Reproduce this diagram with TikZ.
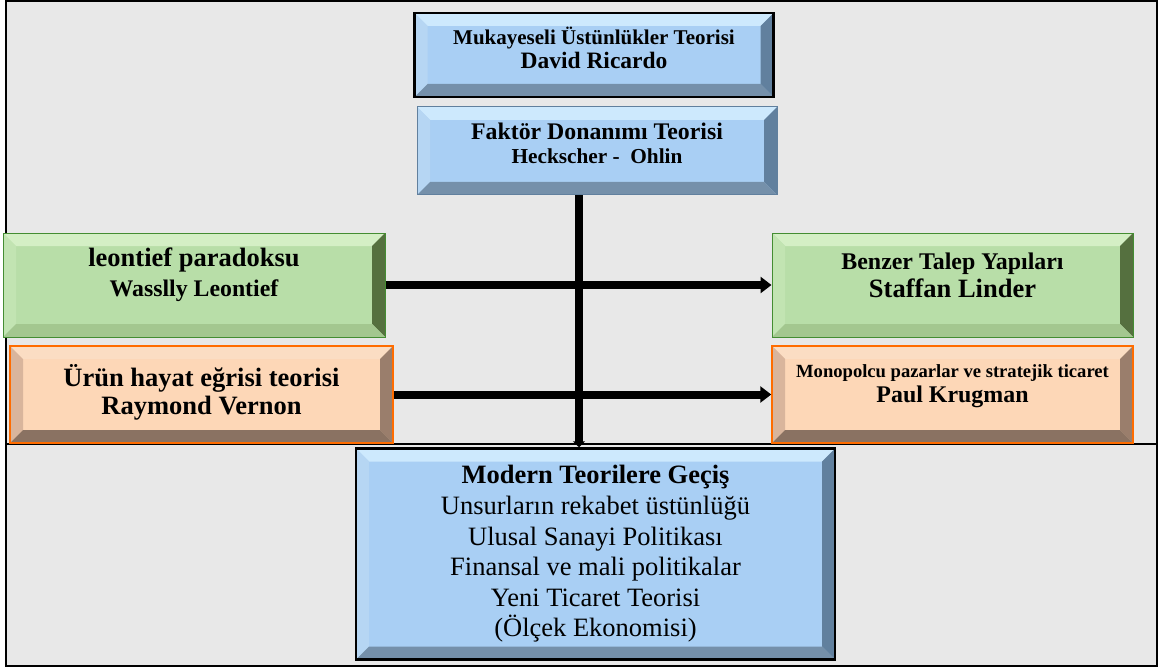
\documentclass[tikz,border=0pt]{standalone}
\usepackage{fontspec}
\setmainfont{Liberation Serif}
\usepackage{tikz}
\usetikzlibrary{arrows.meta, positioning}

\definecolor{bgray}{HTML}{E8E8E8}
\definecolor{bluemain}{HTML}{A9CFF4}
\definecolor{bluetop}{HTML}{CDE9FD}
\definecolor{blueleft}{HTML}{B6D6F3}
\definecolor{blueright}{HTML}{61809E}
\definecolor{bluebot}{HTML}{7590AA}
\definecolor{greenmain}{HTML}{B8DEA8}
\definecolor{greentop}{HTML}{D4EFC5}
\definecolor{greenleft}{HTML}{C2E4B2}
\definecolor{greenright}{HTML}{55703F}
\definecolor{greenbot}{HTML}{A3C78F}
\definecolor{orangemain}{HTML}{FDD7B7}
\definecolor{orangetop}{HTML}{FBDDC3}
\definecolor{orangeleft}{HTML}{D9B59C}
\definecolor{orangeright}{HTML}{9A7E6C}
\definecolor{orangebot}{HTML}{8A7262}
\newcommand\bevw{13pt}
\newcommand\fs[2]{\fontsize{#1}{#2}\selectfont}

\begin{document}
\begin{tikzpicture}[x=1pt,y=-1pt]
\tikzset{bevel/.style n args={5}{fill=#1, path picture={
   \fill[#2] (path picture bounding box.north west) -- (path picture bounding box.north east)
      -- ([shift={(-\bevw,-\bevw)}]path picture bounding box.north east)
      -- ([shift={(\bevw,-\bevw)}]path picture bounding box.north west) -- cycle;
   \fill[#3] (path picture bounding box.north west) -- (path picture bounding box.south west)
      -- ([shift={(\bevw,\bevw)}]path picture bounding box.south west)
      -- ([shift={(\bevw,-\bevw)}]path picture bounding box.north west) -- cycle;
   \fill[#4] (path picture bounding box.north east) -- (path picture bounding box.south east)
      -- ([shift={(-\bevw,\bevw)}]path picture bounding box.south east)
      -- ([shift={(-\bevw,-\bevw)}]path picture bounding box.north east) -- cycle;
   \fill[#5] (path picture bounding box.south west) -- (path picture bounding box.south east)
      -- ([shift={(-\bevw,\bevw)}]path picture bounding box.south east)
      -- ([shift={(\bevw,\bevw)}]path picture bounding box.south west) -- cycle;}},
  tbox/.style={rectangle, align=center, inner sep=0pt},
  bluebox/.style={tbox, bevel={bluemain}{bluetop}{blueleft}{blueright}{bluebot}, draw=black, line width=2.5pt},
  lbluebox/.style={tbox, bevel={bluemain}{bluetop}{blueleft}{blueright}{bluebot}, draw=blueright, line width=1pt},
  greenbox/.style={tbox, bevel={greenmain}{greentop}{greenleft}{greenright}{greenbot}, draw=greenright!80!green, line width=1pt},
  orangebox/.style={tbox, bevel={orangemain}{orangetop}{orangeleft}{orangeright}{orangebot}, draw=orange!85!red, line width=1.5pt},
  flow/.style={line width=8pt, -{Triangle[length=11pt,width=16pt]}}}

% background and frame
\useasboundingbox (0,0) rectangle (1164,671);
\fill[white] (0,0) rectangle (1164,671);
\draw[fill=bgray, line width=2.5pt] (6,1) rectangle (1157,666);
\draw[line width=1.3pt] (6,444) -- (1157,444);

% boxes
\node[bluebox, minimum width=359pt, minimum height=84pt, text depth=14pt, font=\bfseries\fs{21}{24.5}] (ricardo) at (594,55)
  {Mukayeseli Üstünlükler Teorisi\\ \fs{23.5}{24.5}David Ricardo};
\node[lbluebox, minimum width=360pt, minimum height=88pt, text depth=16pt, font=\bfseries\fs{23.8}{23.5}] (heckscher) at (597,151)
  {Faktör Donanımı Teorisi\\ \fs{21.3}{23.5}Heckscher -\ \ Ohlin};
\node[greenbox, minimum width=382pt, minimum height=104pt, text depth=26pt, font=\bfseries\fs{26.5}{30}] (leontief) at (194,285)
  {leontief paradoksu\\ \fs{23.8}{30}Wasslly Leontief};
\node[greenbox, minimum width=361pt, minimum height=104pt, text depth=20pt, font=\bfseries\fs{23.9}{28}] (linder) at (952.5,285)
  {Benzer Talep Yapıları\\ \fs{26.5}{28}Staffan Linder};
\node[orangebox, minimum width=383pt, minimum height=97pt, text depth=10pt, font=\bfseries\fs{26.5}{28}] (vernon) at (201.5,394.5)
  {Ürün hayat eğrisi teorisi\\ Raymond Vernon};
\node[orangebox, minimum width=361pt, minimum height=97pt, text depth=22pt, font=\bfseries\fs{18.6}{25}] (krugman) at (952.5,394.5)
  {Monopolcu pazarlar ve stratejik ticaret\\ \fs{23.9}{25}Paul Krugman};
\node[bluebox, minimum width=479pt, minimum height=211pt, font=\fs{26.5}{30.6}] (modern) at (595.5,554)
  {\textbf{Modern Teorilere Geçiş}\\ Unsurların rekabet üstünlüğü\\ Ulusal Sanayi Politikası\\
   Finansal ve mali politikalar\\ Yeni Ticaret Teorisi\\ (Ölçek Ekonomisi)};

% arrows
\coordinate (spine) at (579,0);
\draw[line width=8pt, -{Triangle[length=6pt,width=12pt]}] (heckscher.south -| spine) -- (modern.north -| spine);
\draw[flow] (leontief.east) -- (linder.west);
\draw[flow] (vernon.east) -- (krugman.west);
\end{tikzpicture}
\end{document}
